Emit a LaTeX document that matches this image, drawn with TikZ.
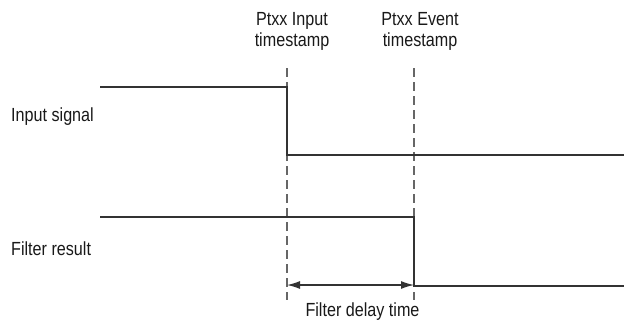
\documentclass[tikz,border=0pt]{standalone}
\usepackage{fontspec}
\setmainfont{Liberation Sans}[FakeStretch=0.85]
\usepackage{tikz}
\usetikzlibrary{arrows.meta}

\tikzset{
  signal/.style={line width=1.2pt,black!80},
  marker/.style={line width=1.2pt,black!60,dash pattern=on 9pt off 5pt},
  delay/.style={line width=1.2pt,black!80,{Latex[length=13pt,width=8pt]}-{Latex[length=13pt,width=8pt]}},
  lbl/.style={inner sep=0pt,text=black!90,font=\fontsize{19}{21}\selectfont}
}

\begin{document}
\begin{tikzpicture}[x=1pt,y=-1pt]
\useasboundingbox (0,0) rectangle (624,324);
% time markers
\coordinate (ta) at (287,68);
\coordinate (tb) at (287,300);
\coordinate (ua) at (414,68);
\coordinate (ub) at (414,300);
\draw[marker] (ta) -- (tb);
\draw[marker] (ua) -- (ub);
% input signal
\coordinate (in0) at (100,87);
\coordinate (in1) at (287,87);
\coordinate (in2) at (287,155);
\coordinate (in3) at (624,155);
\draw[signal] (in0) -- (in1) -- (in2) -- (in3);
% filter result
\coordinate (fr0) at (100,217);
\coordinate (fr1) at (414,217);
\coordinate (fr2) at (414,286);
\coordinate (fr3) at (624,286);
\draw[signal] (fr0) -- (fr1) -- (fr2) -- (fr3);
% delay
\coordinate (da) at (287,285);
\coordinate (db) at (414,285);
\draw[delay] (da) -- (db);
% labels
\node[lbl,anchor=base,align=center] (inputts) at (292,46.7) {Ptxx Input\\timestamp};
\node[lbl,anchor=base,align=center] (eventts) at (420,46.7) {Ptxx Event\\timestamp};
\node[lbl,anchor=base west] (insig) at (11,121) {Input signal};
\node[lbl,anchor=base west] (filt) at (11,255) {Filter result};
\node[lbl,anchor=base] (delaytxt) at (362.5,316.5) {Filter delay time};
\end{tikzpicture}
\end{document}
